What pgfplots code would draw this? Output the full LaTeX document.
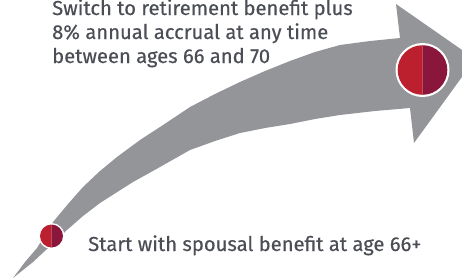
\documentclass[border=0pt]{standalone}
\usepackage{pgfplots}
\pgfplotsset{compat=1.18}
\usepackage{fontspec}
\setmainfont{Fira Sans}[FakeBold=0.4]
\definecolor{arrowgrey}{HTML}{939598}
\definecolor{cred}{HTML}{BC1F2D}
\definecolor{cmaroon}{HTML}{8A163B}
\definecolor{txt}{HTML}{4B4E55}
\pgfdeclareplotmark{dualdot}{%
  \pgfsetfillcolor{cred}%
  \pgfpathmoveto{\pgfpoint{0pt}{-\pgfplotmarksize}}%
  \pgfpatharc{270}{90}{\pgfplotmarksize}%
  \pgfpathclose\pgfusepathqfill
  \pgfsetfillcolor{cmaroon}%
  \pgfpathmoveto{\pgfpoint{0pt}{\pgfplotmarksize}}%
  \pgfpatharc{90}{-90}{\pgfplotmarksize}%
  \pgfpathclose\pgfusepathqfill
}
\pgfdeclareplotmark{whitedot}{%
  \pgfsetfillcolor{white}%
  \pgfpathcircle{\pgfpointorigin}{\pgfplotmarksize}%
  \pgfusepathqfill
}
\begin{document}
\begin{tikzpicture}
\useasboundingbox (0,0) rectangle (462bp,280bp);
\begin{axis}[
  scale only axis, width=462bp, height=280bp,
  xmin=0, xmax=462, ymin=0, ymax=280, y dir=reverse,
  hide axis, clip mode=individual,
]
% arrow body (upper edge left->right, head, lower edge right->left)
\addplot[fill=arrowgrey, draw=none] coordinates {
  (13,278) (25,262) (37,248) (53,222) (68,204) (83,187) (100,171) (117,157)
  (140,140) (160,127) (190,107) (215,94) (240,82) (265,71) (290,61)
  (315,52) (340,45) (370,41) (400,38)
  (396,4) (475,59) (414,143)
  (410,108) (375,111) (340,115) (315,119) (290,124) (265,128) (240,133)
  (215,141) (190,150) (160,167) (133,182) (100,203) (83,216) (67,230)
  (47,249) (33,262) (13,278)
} --cycle;
% white rings
\addplot[only marks, mark=whitedot, mark size=27bp] coordinates {(422.5,70)};
\addplot[only marks, mark=whitedot, mark size=13bp] coordinates {(51.5,236)};
% two-tone dots
\addplot[only marks, mark=dualdot, mark size=24.8bp] coordinates {(422.5,70)};
\addplot[only marks, mark=dualdot, mark size=11.5bp] coordinates {(51.5,236)};
\node[anchor=base west, inner sep=0pt, text=txt, font=\fontsize{20.2bp}{24bp}\selectfont] at (axis cs:52,15) {Switch to retirement benefit plus};
\node[anchor=base west, inner sep=0pt, text=txt, font=\fontsize{20.2bp}{24bp}\selectfont] at (axis cs:52,39) {8\% annual accrual at any time};
\node[anchor=base west, inner sep=0pt, text=txt, font=\fontsize{20.2bp}{24bp}\selectfont] at (axis cs:52,63) {between ages 66 and 70};
\node[anchor=base west, inner sep=0pt, text=txt, font=\fontsize{20.2bp}{24bp}\selectfont] at (axis cs:88,251) {Start with spousal benefit at age 66+};
\end{axis}
\end{tikzpicture}
\end{document}
